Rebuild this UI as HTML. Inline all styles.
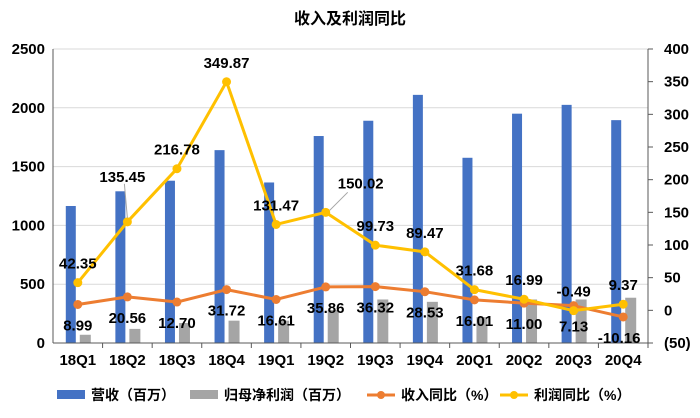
<!DOCTYPE html>
<html><head><meta charset="utf-8"><style>
body{margin:0;background:#fff;}
svg{display:block;font-family:"Liberation Sans","Noto Sans CJK SC",sans-serif;}
</style></head><body>
<svg id="chart" width="700" height="418">
<text x="350" y="24" text-anchor="middle" font-size="16" font-weight="bold">收入及利润同比</text>
<g id="grid"></g><g id="bars"></g><g id="lines"></g><g id="axes"></g><g id="labels"></g>
<g id="legend"></g>
</svg>
<script>
const categories=["18Q1","18Q2","18Q3","18Q4","19Q1","19Q2","19Q3","19Q4","20Q1","20Q2","20Q3","20Q4"];
const revenue=[1165,1290,1380,1640,1365,1760,1890,2110,1575,1950,2025,1895];
const netProfit=[70,120,170,190,190,280,370,350,220,370,370,385];
const revenueYoY=[8.99,20.56,12.70,31.72,16.61,35.86,36.32,28.53,16.01,11.00,7.13,-10.16];
const profitYoY=[42.35,135.45,216.78,349.87,131.47,150.02,99.73,89.47,31.68,16.99,-0.49,9.37];
const leftTicks=[0,500,1000,1500,2000,2500];
const rightTicks=[-50,0,50,100,150,200,250,300,350,400];

const NS="http://www.w3.org/2000/svg";
const L=53,R=648,T=49,B=343;
const yL=v=>B-(v/2500)*(B-T);
const yR=v=>B-((v+50)/450)*(B-T);
const cw=(R-L)/categories.length;
const xC=i=>L+cw*(i+0.5);
function mk(tag,attrs,parent,text){const e=document.createElementNS(NS,tag);for(const k in attrs)e.setAttribute(k,attrs[k]);if(text!==undefined)e.textContent=text;document.getElementById(parent).appendChild(e);return e;}

leftTicks.forEach(t=>{
  if(t>0){const g=mk('line',{x1:L,x2:R,y1:yL(t),y2:yL(t),stroke:'#d9d9d9','stroke-width':1},'grid');
  
  }
  const tx=mk('text',{x:L-8,y:yL(t)+5,'text-anchor':'end','font-size':15,'font-weight':'bold'},'axes',t);
  
  
});
rightTicks.forEach(t=>{
  const tx=mk('text',{x:R+16,y:yR(t)+5,'font-size':15,'font-weight':'bold'},'axes',t<0?'('+(-t)+')':t);
  
  
  const tk=mk('line',{x1:R,x2:R+5,y1:yR(t),y2:yR(t),stroke:'#595959'},'axes');
  
  
});
let a=mk('line',{x1:L,x2:L,y1:T,y2:B,stroke:'#595959'},'axes');


a=mk('line',{x1:R,x2:R,y1:T,y2:B,stroke:'#595959'},'axes');


a=mk('line',{x1:L,x2:R,y1:B,y2:B,stroke:'#595959'},'axes');



categories.forEach((c,i)=>{
  const tk=mk('line',{x1:L+cw*(i+1),x2:L+cw*(i+1),y1:B,y2:B+5,stroke:'#595959'},'axes');
  
  
  const tx=mk('text',{x:xC(i),y:B+22,'text-anchor':'middle','font-size':15,'font-weight':'bold'},'axes',c);
  
  
  const b1=mk('rect',{x:xC(i)-12,y:yL(revenue[i]),width:10,height:B-yL(revenue[i]),fill:'#4472c4'},'bars');
  
  
  const b2=mk('rect',{x:xC(i)+2,y:yL(netProfit[i]),width:11,height:B-yL(netProfit[i]),fill:'#a5a5a5'},'bars');
  
  
});

function series(vals,color,name){
  const p=mk('polyline',{points:vals.map((v,i)=>xC(i)+','+yR(v)).join(' '),fill:'none',stroke:color,'stroke-width':3,'stroke-linejoin':'round'},'lines');
  
  
  vals.forEach((v,i)=>{
    const c=mk('circle',{cx:xC(i),cy:yR(v),r:4.5,fill:color},'lines');
    
    
  });
}
series(revenueYoY,'#ed7d31','revenue-yoy');
series(profitYoY,'#ffc000','profit-yoy');

profitYoY.forEach((v,i)=>{
  let dx=0,dy=-20;
  if(i===1){dx=-5;dy=-46;const l=mk('line',{x1:xC(i),y1:yR(v)-4,x2:xC(i)-3,y2:yR(v)-38,stroke:'#a5a5a5'},'labels');}
  if(i===5){dx=35;dy=-30;const l=mk('line',{x1:xC(i)+4,y1:yR(v)-2,x2:xC(i)+22,y2:yR(v)-20,stroke:'#a5a5a5'},'labels');}
  const t=mk('text',{x:xC(i)+dx,y:yR(v)+dy+6,'text-anchor':'middle','font-size':15,'font-weight':'bold'},'labels',v.toFixed(2));
  
  
});
revenueYoY.forEach((v,i)=>{
  const dx=(i===11)?-4:0;
  const t=mk('text',{x:xC(i)+dx,y:yR(v)+26,'text-anchor':'middle','font-size':15,'font-weight':'bold'},'labels',v.toFixed(2));
  
  
});

const leg=[["营收（百万）",'#4472c4','rect',57],["归母净利润（百万）",'#a5a5a5','rect',190],["收入同比（%）",'#ed7d31','line',367],["利润同比（%）",'#ffc000','line',500]];
leg.forEach(([txt,col,type,x])=>{
  if(type==='rect'){const r=mk('rect',{x:x,y:390,width:28,height:9,fill:col},'legend');}
  else{const l=mk('line',{x1:x,x2:x+28,y1:395,y2:395,stroke:col,'stroke-width':3},'legend');
       const c=mk('circle',{cx:x+14,cy:395,r:4,fill:col},'legend');}
  const t=mk('text',{x:x+34,y:400,'font-size':14,'font-weight':'bold'},'legend',txt);
  
  
});
</script>
</body></html>
